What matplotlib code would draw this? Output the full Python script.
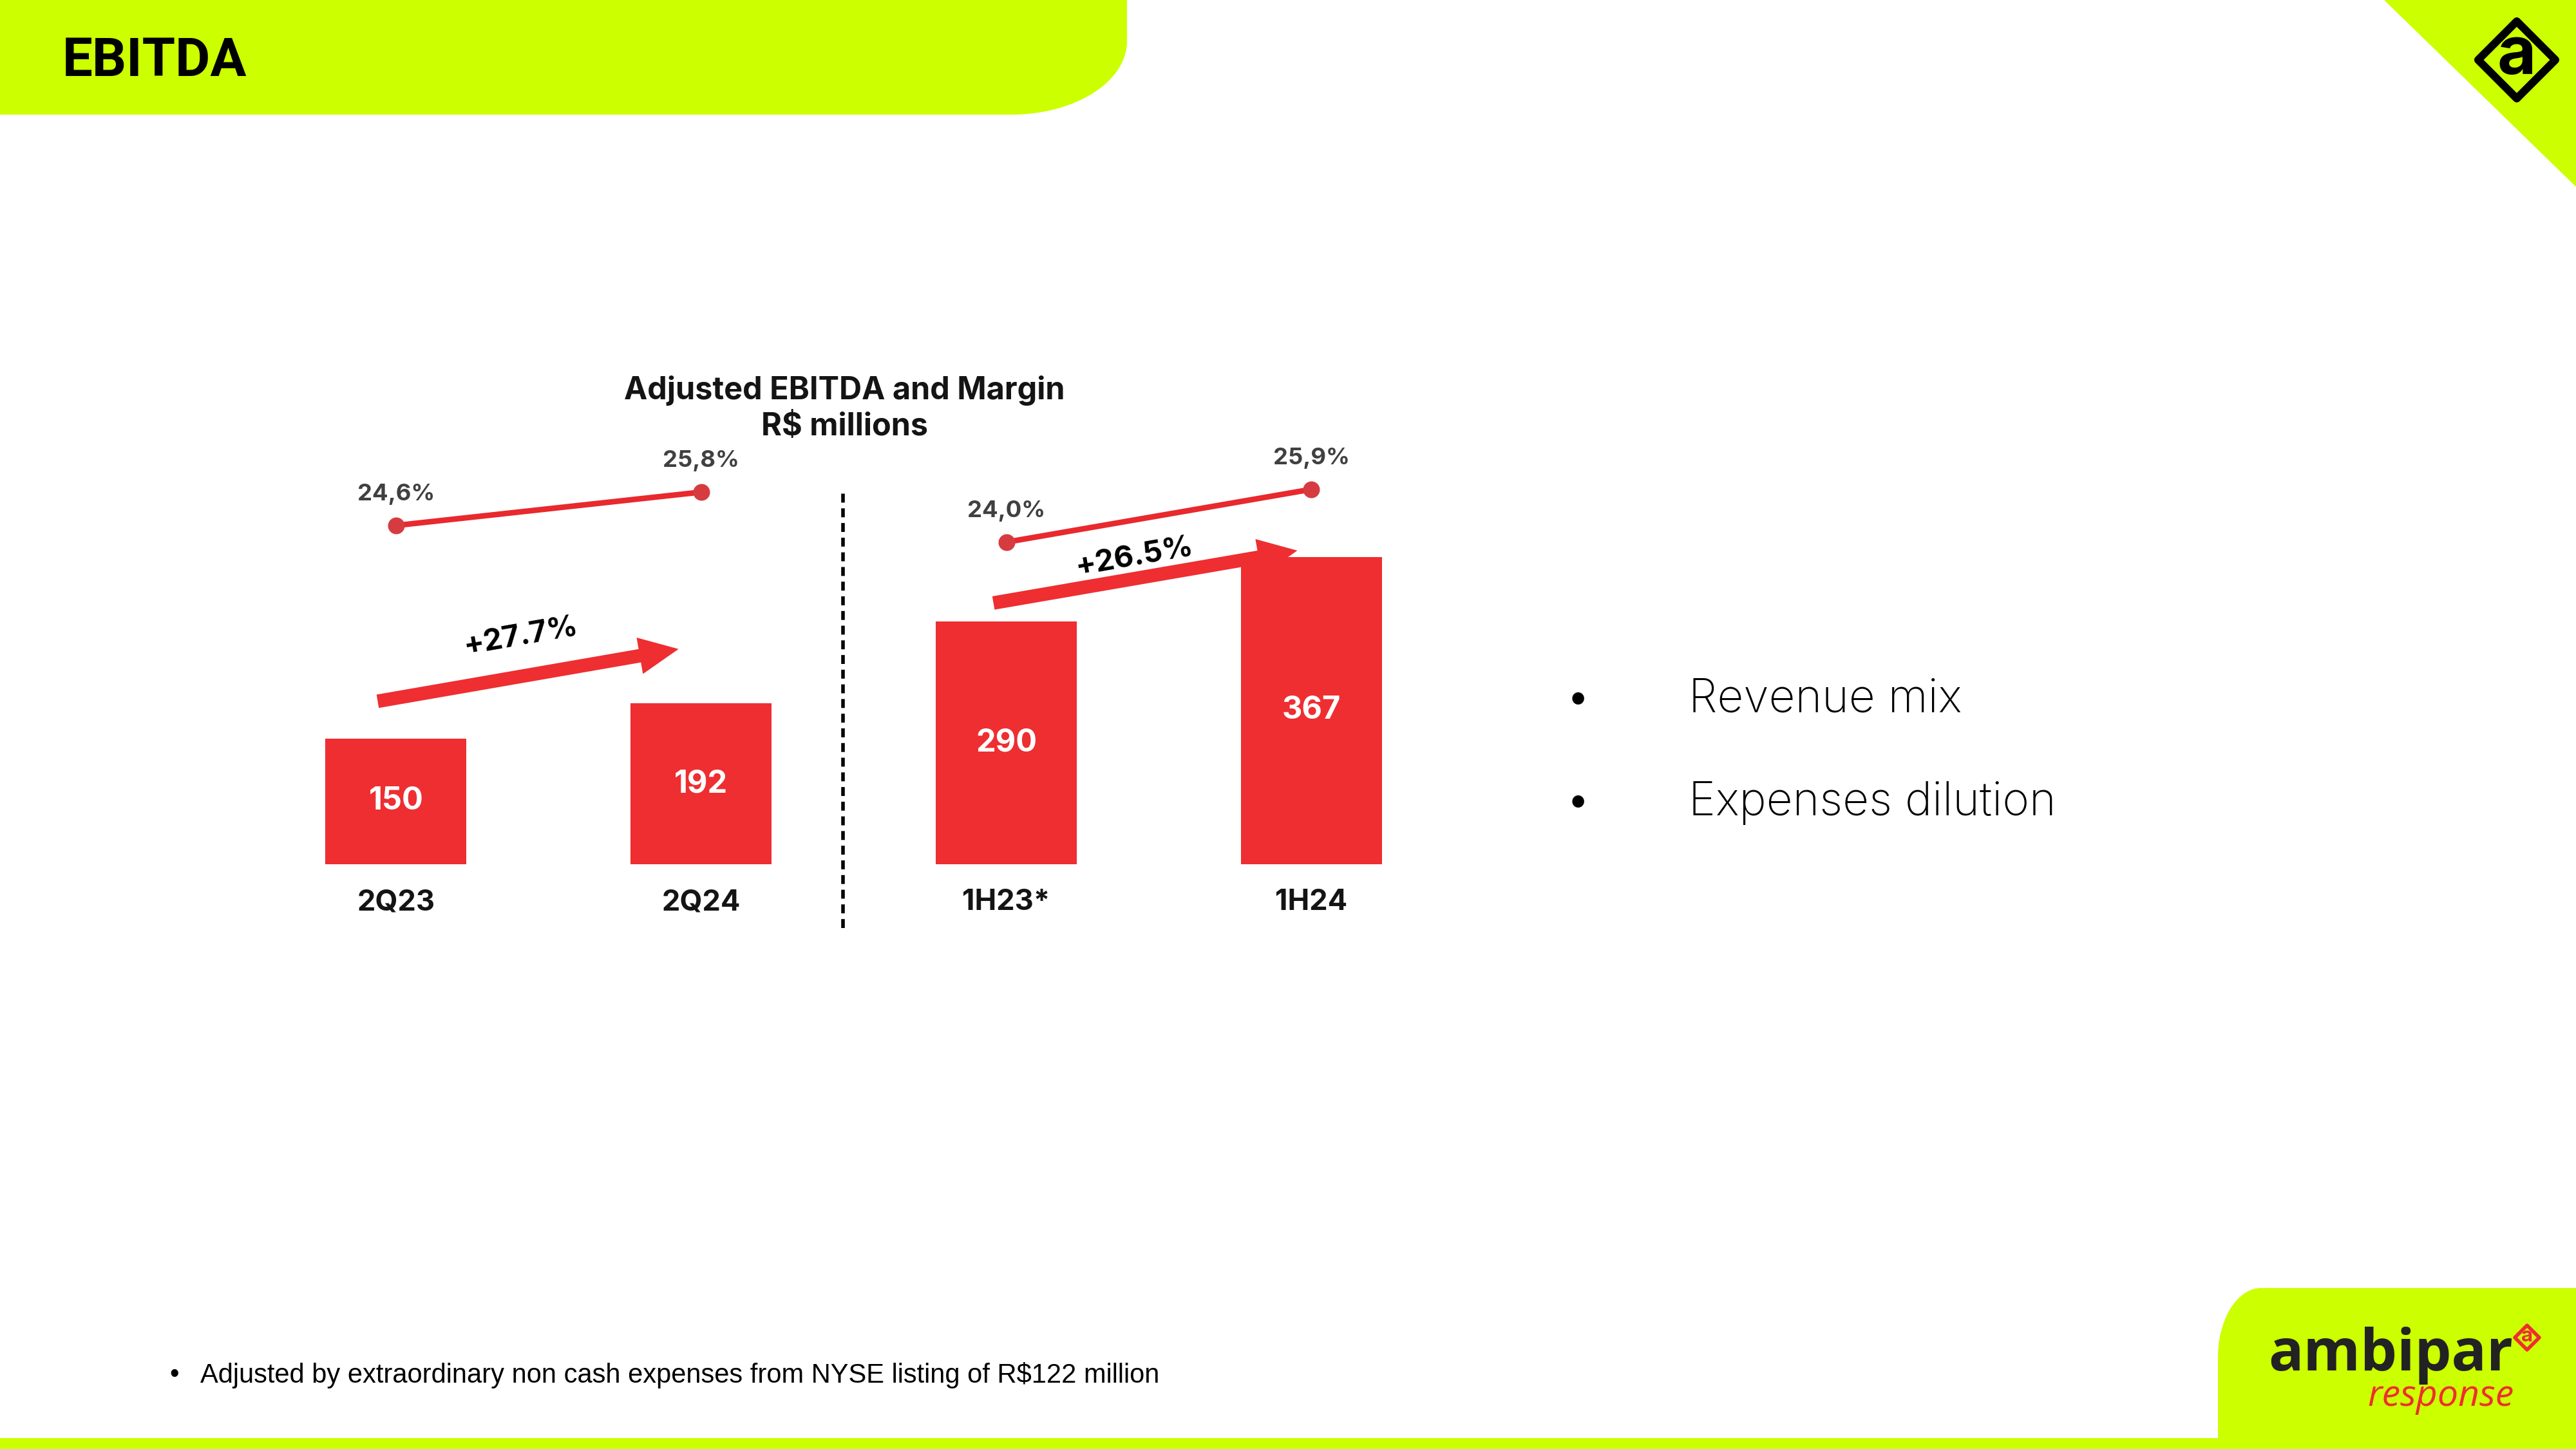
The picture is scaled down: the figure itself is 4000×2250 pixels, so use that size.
import numpy as np
import matplotlib
matplotlib.use('Agg')
import matplotlib.pyplot as plt
from matplotlib.patches import Polygon

# data
periods = ['2Q23', '2Q24', '1H23*', '1H24']
ebitda = [150, 192, 290, 367]
margin = [24.6, 25.8, 24.0, 25.9]
margin_labels = ['24,6%', '25,8%', '24,0%', '25,9%']
growth_labels = ['+27.7%', '+26.5%']
drivers = ['Revenue mix', 'Expenses dilution']
footnote = 'Adjusted by extraordinary non cash expenses from NYSE listing of R$122 million'

LIME = '#ccff00'
RED = '#ee2e31'
LINE_RED = '#e8292d'
DOT_RED = '#d63c3f'
DARK = '#141414'
GREY = '#404040'

plt.rcParams['font.family'] = ['Inter', 'DejaVu Sans']

fig = plt.figure(figsize=(16, 9), dpi=250)

# background layer in pixel coordinates
bg = fig.add_axes([0, 0, 1, 1])
bg.set_xlim(0, 4000)
bg.set_ylim(2250, 0)
bg.axis('off')

# header band with rounded bottom-right corner
t = np.linspace(0, np.pi / 2, 40)
arc = np.column_stack([1570 + 180 * np.cos(t), 64 + 114 * np.sin(t)])
bg.add_patch(Polygon(np.vstack([[0, 0], [1750, 0], arc, [0, 178]]),
                     closed=True, color=LIME, lw=0))
bg.text(97, 96, 'EBITDA', ha='left', va='center', fontsize=24, fontweight='bold',
        color='black', family=['Roboto', 'DejaVu Sans'])

# top-right corner triangle + logo
bg.add_patch(Polygon([[3702, 0], [4000, 0], [4000, 290]], closed=True, color=LIME, lw=0))


def diamond(cx, cy, r, color, lw):
    pts = [(cx, cy - r), (cx + r, cy), (cx, cy + r), (cx - r, cy)]
    bg.add_patch(Polygon(pts, closed=True, fill=False, edgecolor=color, lw=lw,
                         joinstyle='round'))


diamond(3908, 93, 60, 'black', 3.5)
bg.text(3908, 88, 'a', ha='center', va='center', fontsize=30, fontweight='bold',
        color='black')

# bottom-right logo block and bottom strip
t2 = np.linspace(np.pi, 1.5 * np.pi, 40)
arc2 = np.column_stack([3511 + 67 * np.cos(t2), 2108 + 108 * np.sin(t2)])
bg.add_patch(Polygon(np.vstack([[3444, 2250], arc2, [4000, 2000], [4000, 2250]]),
                     closed=True, color=LIME, lw=0))
bg.add_patch(Polygon([[0, 2233], [4000, 2233], [4000, 2250], [0, 2250]],
                     closed=True, color=LIME, lw=0))
bg.text(3712, 2128, 'ambipar', ha='center', va='baseline', fontsize=26,
        fontweight='bold', color='#222222', family=['Open Sans', 'DejaVu Sans'])
bg.text(3790, 2183, 'response', ha='center', va='baseline', fontsize=16.5,
        style='italic', color=RED, family=['Open Sans', 'DejaVu Sans'])
diamond(3924, 2077, 19, RED, 1.6)
bg.text(3924, 2075, 'a', ha='center', va='center', fontsize=9, fontweight='bold',
        color=RED)

# footnote
bg.text(263, 2135, '•', ha='left', va='center', fontsize=12, color='black',
        family=['Liberation Sans', 'DejaVu Sans'])
bg.text(311, 2135, footnote, ha='left', va='center', fontsize=12, color='black',
        family=['Liberation Sans', 'DejaVu Sans'])

# drivers
for i, d in enumerate(drivers):
    y = 1086 + 161 * i
    bg.text(2434, y, '•', ha='left', va='center', fontsize=17, color='black')
    bg.text(2622, y, d, ha='left', va='center', fontsize=20.5, fontweight='light',
            color='black')

# chart title
bg.text(1311, 607, 'Adjusted EBITDA and Margin', ha='center', va='center',
        fontsize=14, fontweight='bold', color=DARK)
bg.text(1311, 663, 'R$ millions', ha='center', va='center',
        fontsize=14, fontweight='bold', color=DARK)

# chart
ax = fig.add_axes([0.0945, 0.4036, 0.4738, 842 / 2250])
ax.set_facecolor('none')
x = np.arange(len(periods))
bars = ax.bar(x, ebitda, width=0.462, color=RED, zorder=2)
ax.bar_label(bars, labels=[str(v) for v in ebitda], label_type='center',
             color='white', fontsize=14, fontweight='bold')
ax.set_xlim(-0.5, 3.5)
ax.set_ylim(0, 647.7)
ax.set_xticks(x, periods)
ax.tick_params(axis='x', length=0, pad=11, labelsize=13, labelcolor=DARK)
for lab in ax.get_xticklabels():
    lab.set_fontweight('bold')
ax.set_yticks([])
for s in ax.spines.values():
    s.set_visible(False)

# separator
ax.axvline(1.464, ymin=-0.1176, ymax=0.6936, color='black', lw=1.6,
           linestyle=(0, (2.5, 1.6)), clip_on=False)

# growth arrows
arrows = [((-0.06, 194.6), (0.926, 257.0), (0.409, 272)),
          ((1.958, 312.0), (2.954, 374.6), (2.42, 367))]
for (tail, head, lab_pos), g in zip(arrows, growth_labels):
    ax.annotate('', xy=head, xytext=tail,
                arrowprops=dict(arrowstyle='simple,head_length=1.6,head_width=1.5,tail_width=0.55',
                                mutation_scale=11, color=RED, lw=0,
                                shrinkA=0, shrinkB=0), zorder=3)
    ax.text(lab_pos[0], lab_pos[1], g, ha='center', va='center', rotation=10,
            fontsize=13.5, fontweight='bold', color='black', zorder=4)

# margin line
ax2 = ax.twinx()
ax2.set_ylim(12.418, 31.92)
ax2.set_yticks([])
for s in ax2.spines.values():
    s.set_visible(False)
for grp in [(0, 1), (2, 3)]:
    xs = [x[i] for i in grp]
    ys = [margin[i] for i in grp]
    ax2.plot(xs, ys, color=LINE_RED, lw=2.5, marker='o', ms=6.5,
             mfc=DOT_RED, mec=DOT_RED, solid_capstyle='butt')
for xi, m, lab in zip(x, margin, margin_labels):
    ax2.annotate(lab, (xi, m), xytext=(0, 14), textcoords='offset points',
                 ha='center', va='center', fontsize=10.5, fontweight='bold',
                 color=GREY)

fig.savefig('out.png', dpi=250)
